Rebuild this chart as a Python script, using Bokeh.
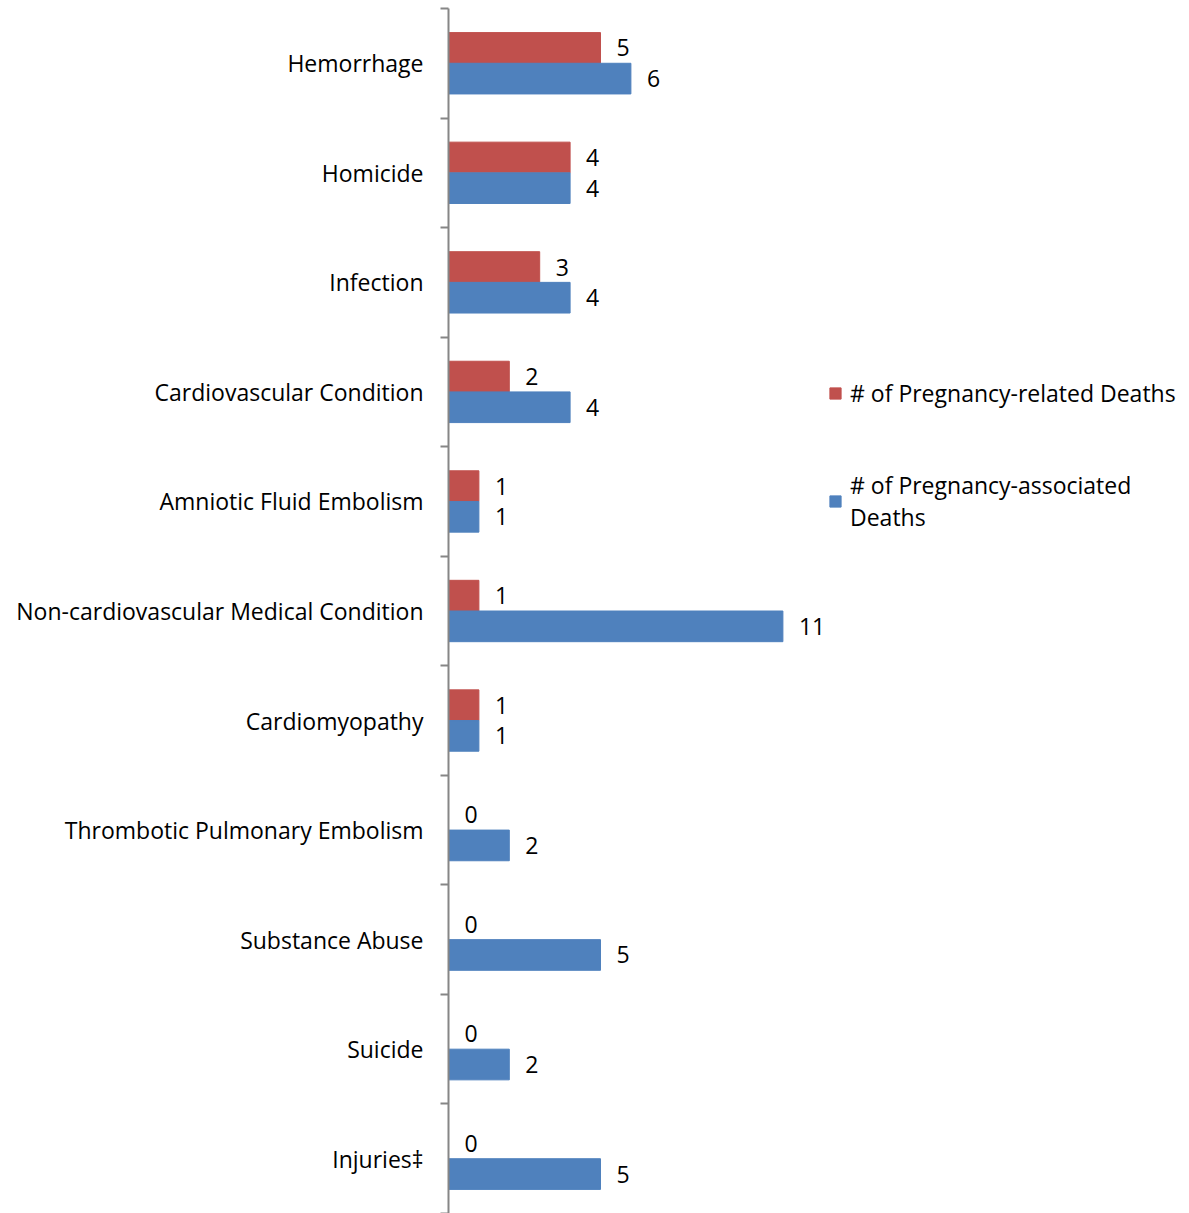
from bokeh.plotting import figure
from bokeh.models import ColumnDataSource, FixedTicker, Range1d, Legend, LegendItem
from bokeh.core.properties import value
from bokeh.embed import file_html
from bokeh.resources import INLINE

categories = ["Hemorrhage", "Homicide", "Infection", "Cardiovascular Condition",
              "Amniotic Fluid Embolism", "Non-cardiovascular Medical Condition",
              "Cardiomyopathy", "Thrombotic Pulmonary Embolism", "Substance Abuse",
              "Suicide", "Injuries‡"]
related = [5, 4, 3, 2, 1, 1, 1, 0, 0, 0, 0]
associated = [6, 4, 4, 4, 1, 11, 1, 2, 5, 2, 5]
series_names = ["# of Pregnancy-related Deaths", "# of Pregnancy-associated\nDeaths"]

RED = "#C0504D"
BLUE = "#4F81BD"
FONT = "Open Sans"
FS = "23px"

n = len(categories)
centers = [n - 1 - i + 0.5 for i in range(n)]
bar_h = 0.28
y_rel = [c + bar_h / 2 for c in centers]
y_asc = [c - bar_h / 2 for c in centers]

src_rel = ColumnDataSource(dict(y=y_rel, v=related, t=[str(v) for v in related]))
src_asc = ColumnDataSource(dict(y=y_asc, v=associated, t=[str(v) for v in associated]))

p = figure(width=1189, height=1213, output_backend="svg", toolbar_location=None,
           x_range=Range1d(0, 741 / 30.4), y_range=Range1d(0, n),
           min_border_left=448, min_border_right=0, min_border_top=8, min_border_bottom=0)
p.outline_line_color = None
p.grid.visible = False
p.xaxis.visible = False

r1 = p.hbar(y="y", left=0, right="v", height=bar_h, source=src_rel,
            fill_color=RED, line_color=RED)
r2 = p.hbar(y="y", left=0, right="v", height=bar_h, source=src_asc,
            fill_color=BLUE, line_color=BLUE)

for src in (src_rel, src_asc):
    p.text(x="v", y="y", text="t", source=src, x_offset=16,
           text_align="left", text_baseline="middle",
           text_font=value(FONT), text_font_size=FS, text_color="black")

ya = p.yaxis[0]
ya.ticker = FixedTicker(ticks=centers, minor_ticks=list(range(n + 1)))
ya.major_label_overrides = {c: name for c, name in zip(centers, categories)}
ya.major_tick_line_color = None
ya.major_tick_out = 0
ya.major_tick_in = 0
ya.minor_tick_out = 8
ya.minor_tick_in = 0
ya.minor_tick_line_color = "#868686"
ya.minor_tick_line_width = 2
ya.axis_line_color = "#868686"
ya.axis_line_width = 2
ya.major_label_standoff = 17
ya.major_label_text_font = FONT
ya.major_label_text_font_size = FS
ya.major_label_text_color = "black"

legend = Legend(items=[LegendItem(label=series_names[0], renderers=[r1]),
                       LegendItem(label=series_names[1], renderers=[r2])],
                location=(380, 680), border_line_color=None, background_fill_alpha=0,
                glyph_width=14, glyph_height=14, label_standoff=8, spacing=60,
                padding=0, margin=0,
                label_text_font=FONT, label_text_font_size=FS, label_text_color="black")
p.add_layout(legend, "center")

open("out.html", "w").write(file_html(p, INLINE))
